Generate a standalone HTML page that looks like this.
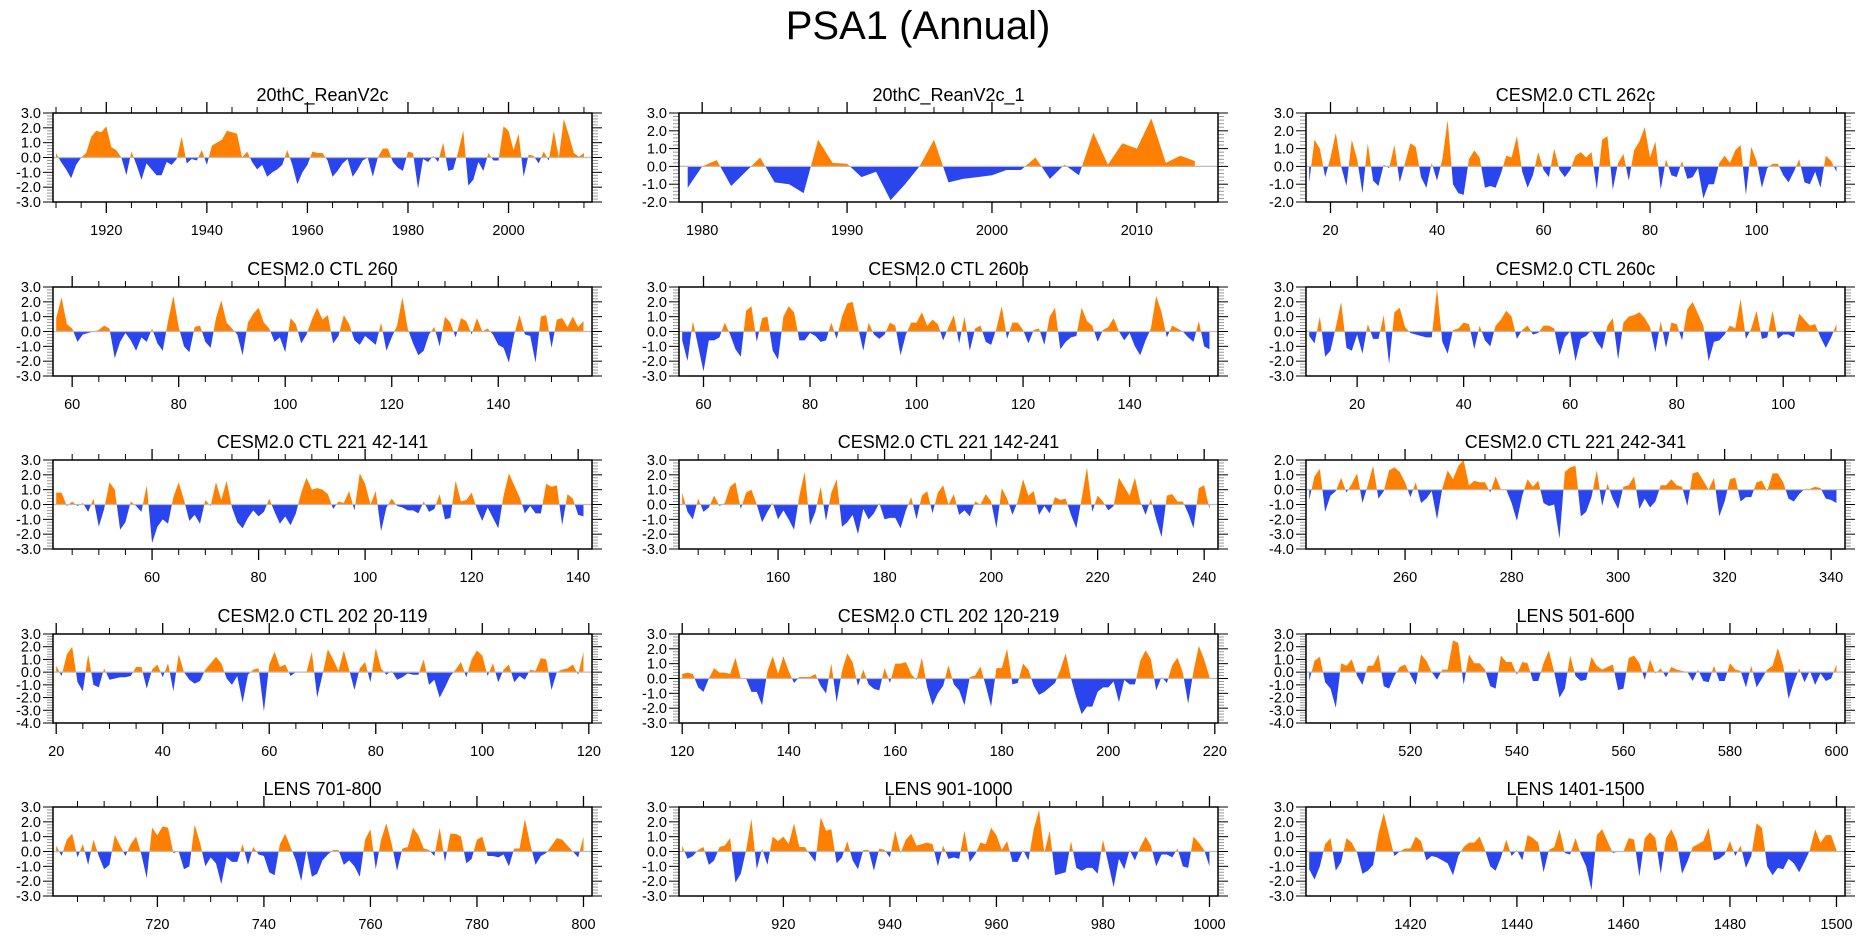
<!DOCTYPE html>
<html><head><meta charset="utf-8">
<style>
html,body{margin:0;padding:0;background:#fff;}
svg{display:block;}
text{font-family:"Liberation Sans",Arial,sans-serif;fill:#000;}
</style></head>
<body>
<svg id="chart" width="1861" height="936" viewBox="0 0 1861 936" xmlns="http://www.w3.org/2000/svg">
<text x="918" y="39" font-size="40" text-anchor="middle">PSA1 (Annual)</text>
</svg>
<script>
const panelTitles = ["20thC_ReanV2c","20thC_ReanV2c_1","CESM2.0 CTL 262c","CESM2.0 CTL 260","CESM2.0 CTL 260b","CESM2.0 CTL 260c","CESM2.0 CTL 221 42-141","CESM2.0 CTL 221 142-241","CESM2.0 CTL 221 242-341","CESM2.0 CTL 202 20-119","CESM2.0 CTL 202 120-219","LENS 501-600","LENS 701-800","LENS 901-1000","LENS 1401-1500"];
const startYears = [1910,1979,16,57,56,11,42,142,242,20,120,501,701,901,1401];
const yMins = [-3,-2,-2,-3,-3,-3,-3,-3,-4,-4,-3,-4,-3,-3,-3];
const yMaxs = [3,3,3,3,3,3,3,3,2,3,3,3,3,3,3];
const xMajor = [20,10,20,20,20,20,20,20,20,20,20,20,20,20,20];
const xMinor = [5,2,5,5,5,5,5,5,5,5,5,5,5,5,5];
const s1 = [0.3,-0.3,-0.8,-1.4,-0.5,0,0.3,1.4,1.8,1.7,2.1,0.7,0.5,0,-1.2,0.4,-0.5,-1.5,-0.4,-0.8,-1.2,-1.2,-0.3,-0.5,-0.1,1.4,-0.4,-0.1,-0.2,0.5,-0.5,0.8,1.0,1.2,1.8,1.7,1.6,0,0.4,-0.3,-0.8,-0.5,-1.3,-1.0,-0.8,-0.5,0.5,-0.5,-1.8,-1.0,-0.5,0.4,0.3,0.3,-0.2,-1.3,-0.9,-0.4,-0.1,-1.3,-0.8,-0.2,0,-1.3,0.0,0.6,0.6,-0.3,-0.7,-0.9,0.4,0.3,-2.1,-0.1,-0.3,0.1,-0.3,1.0,-0.9,-0.8,0.4,1.8,-1.9,-1.5,-0.3,-0.9,0.3,-0.2,-0.2,2.1,1.8,0.5,1.6,-1.3,0.2,0.1,-0.4,0.4,-0.2,1.8,0,2.6,1.5,0.3,0.05,0.3];
const s2 = [-1.2,0,0.35,-1.1,-0.3,0.5,-0.9,-1.0,-1.5,1.5,0.2,0.15,-0.6,-0.3,-1.9,-1.0,0.0,1.5,-0.9,-0.7,-0.6,-0.5,-0.2,-0.2,0.5,-0.7,0.1,-0.5,1.9,0.1,1.3,1.0,2.7,0.2,0.6,0.3];
const s3 = [-0.9,1.5,1.0,-0.6,0.5,1.9,0,-1.1,1.5,0.4,-1.5,1.3,-0.8,-1.1,0.1,-0.1,1.2,-0.9,0.2,1.3,1.1,-0.6,-1.2,0.2,-0.8,0.4,2.6,-1.0,-1.5,-1.6,0.4,0.9,0.5,-1.2,-1.1,-1.2,-0.4,0.6,0.5,1.7,-0.3,-1.2,-0.5,0.8,-0.2,-0.6,1.0,-0.2,-0.6,-0.2,0.6,0.8,0.5,0.8,-1.3,1.5,1.7,-1.3,0.2,0.7,-0.8,0.9,1.4,2.2,0.5,1.4,-1.3,0.4,-0.5,-0.6,0.3,-0.7,-0.6,-0.1,-1.8,-1.0,-1.0,0.2,0.6,0.2,0.9,1.2,-1.6,1.1,0.3,-1.2,-0.1,0.15,0.15,-0.5,-0.9,-0.3,0.4,-0.9,-1.0,-0.3,-1.2,0.6,0.3,-0.3];
const s4 = [0.9,2.3,0.5,0.2,-0.7,-0.2,-0.1,0,0.1,0.4,0.2,-1.8,-0.7,-0.1,-0.6,-1.3,-0.4,-0.7,0.2,-0.8,-1.3,0.7,2.4,0.3,-1.0,-1.4,0.3,0.4,-0.7,-1.1,0.9,2.1,0.6,0.2,-0.2,-1.6,0.6,1.2,1.6,0.6,0.2,-0.7,-0.4,-1.4,0.9,0.5,-0.8,-0.2,0.8,1.6,0.8,1.1,-0.8,-0.3,1.1,0.5,-0.6,-0.9,-0.3,-0.6,-0.9,0.6,-1.3,-0.4,0.4,2.3,0.2,-0.8,-1.6,-1.3,-0.2,0.3,-1.0,1.0,0.6,-0.4,0.9,0.7,-0.2,0.9,0.0,0.2,-0.2,-0.9,-1.1,-2.1,-0.2,1.1,-0.2,-0.3,-2.1,1.0,1.1,-1.1,0.8,0.9,0.3,1.0,0.3,0.7];
const s5 = [-0.6,-2.0,0.7,-1.0,-2.7,-0.6,-0.6,-0.4,0.6,-0.2,-1.2,-1.7,1.4,1.7,-0.7,0.9,1.0,-1.3,-1.9,1.0,1.7,1.3,-0.6,-0.6,-0.1,-0.3,-0.7,-0.6,0.6,-0.5,1.0,1.9,2.0,0.3,-1.3,0.6,-0.2,-0.5,-0.2,0.6,0.4,-1.6,-0.2,0.6,0.6,1.3,0.4,0.8,0.5,-0.6,0.3,1.1,-0.8,1.0,-1.3,0.2,0.4,-0.7,-0.9,0.2,1.7,-0.5,0.6,0.6,0.1,-0.8,0.1,0.2,-0.9,1.0,1.6,-1.2,-0.7,-0.4,-0.3,1.6,0.7,0.4,-0.7,0.1,0.3,0.9,0,-0.6,-0.1,-1.0,-1.6,-0.6,0.2,2.4,1.3,-0.4,0.4,0.2,0,-0.4,-0.7,0.7,-1.0,-1.2];
const s6 = [-0.3,-0.8,1.0,-1.7,-1.3,0.3,2.0,-1.1,-1.3,-0.2,-1.5,0.5,-0.5,-0.5,1.1,-2.2,1.3,1.6,0.3,-0.1,-0.2,-0.3,-0.4,-0.4,2.9,-0.7,-1.5,0.1,0.2,0.6,0.5,-1.2,0.4,-0.6,-1.0,0.4,0.8,1.4,1.0,-0.5,0.1,0.4,-0.2,-0.1,0.4,0.4,0.2,-1.6,-0.4,0,-2.0,-0.5,-0.3,0.1,-0.7,-1.2,0.4,0.9,-1.9,0.6,1.0,1.1,1.3,0.9,0.3,-1.4,0.7,-1.1,0.6,0.5,-0.6,1.5,2.0,1.2,0.4,-2.0,-0.7,-0.6,-0.2,0.4,0.2,2.2,-0.5,0.2,1.4,-0.5,-0.4,1.4,-0.5,-0.2,-0.2,-0.4,1.2,0.8,0.4,0.5,-0.4,-1.1,-0.4,0.5];
const s7 = [0.8,0.8,-0.1,0.2,-0.1,0.1,-0.5,0.4,-1.5,-0.3,1.5,1.0,-1.7,-1.2,0.2,-0.1,-0.5,1.3,-2.6,-1.5,-1.0,-1.3,0.5,1.5,0.3,-1.1,-0.7,-1.3,0.3,-0.1,1.5,0.3,1.6,-0.2,-1.2,-1.6,-0.9,-0.4,-0.8,-0.5,0.4,-0.5,-1.3,-0.8,-1.4,-0.6,0.8,1.8,1.0,1.1,1.0,0.7,-0.3,0.2,0.1,0.9,-0.4,2.1,1.4,0,0.9,-1.8,-0.2,0.4,-0.1,-0.2,-0.4,-0.4,-0.6,0.2,-0.5,-0.3,0.7,-1.0,-0.9,1.6,0.2,0.3,0.8,-0.3,-1.1,-0.2,-0.9,-1.6,0.6,2.1,1.3,0.5,-0.6,-0.1,-0.6,-0.6,1.4,1.2,1.3,-1.4,0.7,0.4,-0.7,-0.8];
const s8 = [0.8,-0.5,-1.0,0.4,-0.5,-0.2,0.6,-0.1,0.1,1.2,1.5,-0.3,0.8,1.0,0,-1.2,-0.5,0.1,-1.0,-0.4,-1.0,-1.7,0.6,2.2,-1.4,-0.5,1.2,-1.1,0.8,1.7,-1.5,-1.2,-0.7,-2.0,-0.3,-1.0,-0.6,0.1,-1.0,-0.9,-0.9,-1.6,-0.4,0.5,-1.0,0.6,0.9,-0.6,0.8,1.3,0,0.7,-0.7,-0.4,-0.8,0.2,0,0.7,0.2,-1.6,1.1,0.4,-0.7,0.2,1.7,0.6,0.9,-0.7,-0.1,-0.6,0.5,0.3,0.4,-0.7,-1.6,0.4,2.5,-0.5,0.6,0.2,-0.4,-0.1,1.8,1.2,0.6,1.8,0.2,-0.7,0.4,-1.0,-2.2,0.6,0.7,0.2,0.2,-0.6,-1.6,1.1,1.3,-0.3];
const s9 = [-0.7,0.9,1.4,-1.5,-0.4,-0.1,0.8,-0.2,0.4,1.1,-0.9,0.3,1.6,-0.6,-0.1,1.3,1.5,1.2,0.5,-0.5,0.5,-0.9,-0.6,-0.1,-2.0,0.1,1.3,0.7,1.6,2.0,0.3,0.6,0.5,0.5,-0.2,0.9,0,0,-0.9,-2.1,-0.4,0.7,0.2,0.6,-0.9,-1.1,-1.0,-3.3,1.2,1.5,1.6,-1.8,-1.5,-0.5,1.3,-1.1,0.4,-0.6,-1.3,0.2,0.3,0.9,-1.3,-0.6,-1.2,-0.8,0.3,0.3,0.7,0.3,0.2,-1.1,1.1,1.2,0.6,0,0.8,-1.8,-0.8,0.7,0.8,-0.8,-0.5,-0.5,0.5,0.6,-0.1,1.1,1.1,0.5,-0.6,-0.8,-0.3,0.05,0.05,0.2,0.1,-0.6,-0.7,-0.9];
const s10 = [0.5,-0.3,1.4,2.0,-0.8,-1.5,1.4,-1.0,-1.2,0.3,-0.6,-0.5,-0.4,-0.4,-0.3,0.4,0.4,-1.3,0.2,0.6,-0.4,0.7,-1.5,1.4,0,-0.6,-0.9,-0.7,0.2,0.7,1.2,0.7,-0.5,-1.0,-0.3,-2.4,-0.2,0.2,0.3,-3.1,0.6,1.6,0.4,0.6,-0.3,0,0.05,0,1.6,-2.0,-0.2,1.8,1.0,0.1,1.7,0.2,-1.4,0.3,0.8,-0.8,1.9,0.3,-0.2,0.1,-0.6,-0.4,-0.1,-0.2,-0.2,1.0,-1.0,-0.6,-2.0,-1.2,-0.3,0.2,0.8,-0.4,1.0,1.7,1.3,-0.3,0.7,-0.8,0.2,0.6,-0.8,-0.3,-0.6,0.2,0.1,1.1,1.0,-1.4,0,0.2,0.3,0.6,-0.2,1.6];
const s11 = [0.3,0.4,0.3,-0.6,-0.9,0,0.7,0.4,0.4,0.3,1.4,0,0,-0.9,-0.9,-1.8,0.5,1.5,0.3,1.5,0.5,-0.3,0.1,0.1,0.1,0.3,-0.5,-1.0,1.0,-1.6,0.5,1.7,1.1,-0.5,0.6,-0.4,-0.7,-0.8,0.7,-0.3,1.0,1.0,1.1,0.3,-0.1,1.4,-0.6,-1.8,-1.0,-0.5,0.9,-0.4,-0.8,-1.8,0.1,0.2,0.8,-0.5,-1.9,0.7,0.7,2.0,-0.4,-0.3,1.0,0.6,-0.5,-1.1,-0.9,-0.6,-0.3,0.6,1.7,0,-1.3,-2.4,-1.9,-1.9,-0.9,-0.6,-0.6,-0.2,-1.6,-0.1,-0.4,-0.4,1.2,1.9,1.3,-0.8,0.1,-0.3,0.9,1.4,0.4,-1.7,0.5,2.2,1.3,0.1];
const s12 = [-0.7,0.9,1.2,-0.8,-1.3,-2.8,0.7,0.5,1.0,-0.3,-1.0,0.5,0.5,1.4,-1.1,-1.3,-0.3,0.4,0.6,-0.2,-1.0,1.4,0.9,0,-0.6,0.2,0.2,2.5,2.3,-1.0,1.4,0.7,0.7,0.2,-1.1,-1.3,1.3,0.8,0.8,-0.2,0.8,0.7,-0.7,-0.7,0.7,1.7,0,-2.0,-1.3,1.3,-0.3,-0.7,-0.6,1.2,0.5,0.2,0.4,0.6,-1.4,-1.3,1.1,1.3,0.7,-0.6,1.0,-0.1,0.3,-0.4,0.4,0.2,0.1,0,-0.7,0.2,-0.7,-0.8,0.5,-0.7,-0.7,0.7,0.2,0.1,-1.2,0.5,-1.2,-0.5,0.2,0.5,1.9,0.5,-2.1,-0.8,0.3,-0.8,0.1,-1.0,-0.1,-0.7,-0.5,0.6];
const s13 = [0.4,-0.3,0.8,1.2,-0.4,0.5,-0.9,0.8,-0.3,-1.2,-0.9,1.1,0.4,-0.3,0.5,1.0,-0.2,-1.8,1.6,1.1,1.7,1.6,-0.1,0,-1.2,-1.0,1.8,0.6,-1.0,-0.4,-0.8,-2.2,-0.4,-0.7,-0.7,0.5,-0.9,0.3,-0.2,-0.3,-1.4,-1.6,0.5,1.2,0.3,-0.6,-2.0,0.1,-1.7,-1.5,-0.6,-0.2,0.1,0.1,-0.9,-0.6,-1.0,-1.7,0.8,1.5,-1.2,0.8,1.9,0.5,-1.3,0.2,0.3,1.6,1.1,0.2,0.1,-0.3,1.6,-0.7,1.2,1.2,1.0,-0.8,-0.5,0.8,1.0,-0.3,-0.3,-0.4,-0.2,-1.0,0.2,0.2,2.2,0.5,-0.9,-0.3,-0.1,0.4,0.9,0.8,0.4,0,-0.4,1.0];
const s14 = [0.4,-0.5,-0.3,0.1,0.3,-0.9,-0.6,0.3,0.4,0.9,-2.1,-1.5,0.1,2.2,-1.2,0.2,-0.9,1.0,0.7,1.0,0.5,1.9,0.3,0.3,-0.2,-0.7,2.3,1.4,1.5,-0.8,-0.4,0.7,-0.6,-1.2,0.1,0.1,-1.3,0.2,0.1,-0.4,1.4,-0.1,0.8,1.2,0.4,0.5,0.6,0.5,-1.0,0.4,-0.5,-0.4,-0.5,1.4,-0.7,-0.2,0.6,0.5,1.6,1.1,0.1,0.7,-0.7,-0.7,0.1,-0.6,1.5,2.8,-0.1,1.4,-1.6,-1.5,-1.4,0.7,-1.1,-1.3,-1.1,-1.1,-1.5,0.8,-0.8,-2.4,-0.5,-1.2,0.1,-0.6,0.3,1.0,0.4,-1.0,-0.2,-0.2,-0.4,0.2,-1.0,-1.1,1.0,0.6,0.1,-1.0];
const s15 = [-1.2,-1.9,-1.0,0.5,0.9,-1.3,-0.7,0.9,0.6,-0.1,-1.5,-1.3,-0.9,1.2,2.6,1.1,-0.3,0,0.2,0.2,1.0,0.7,-0.6,-0.3,-0.4,-0.6,-0.8,-1.6,-0.3,0.3,0.6,0.6,1.0,0.1,-1.0,-1.3,-0.4,0.8,-0.3,0.1,-0.6,1.1,0.9,0.6,-1.4,0.1,0.3,1.5,-0.1,-0.2,0.9,-0.2,-1.0,-2.6,1.1,1.5,0.7,-0.1,0,0,0.9,0.8,-1.7,0.9,1.3,0.9,-1.5,0.9,1.5,0.7,-1.5,-0.7,0.3,0.5,0.7,1.6,-0.6,-0.5,-0.2,0.7,-0.3,0.4,-1.1,-0.3,1.9,1.6,-1.0,-1.6,-1.1,-1.2,-0.5,-0.8,-1.4,-0.7,0.1,1.5,0.6,1.1,1.1,0.1];
const series = [s1,s2,s3,s4,s5,s6,s7,s8,s9,s10,s11,s12,s13,s14,s15];

const NS = "http://www.w3.org/2000/svg";
const svg = document.getElementById('chart');
const colLeft = [53, 679, 1306];
const rowTop = [113, 287, 460, 634, 807];
const PW = 539, PH = 89;

function mk(tag, attrs, parent) {
  const e = document.createElementNS(NS, tag);
  for (const k in attrs) e.setAttribute(k, attrs[k]);
  (parent || svg).appendChild(e);
  return e;
}
function fmt(v){ return v.toFixed(1); }

series.forEach((vals, p) => {
  const L = colLeft[p % 3], T = rowTop[Math.floor(p / 3)];
  const start = startYears[p];
  const end = start + vals.length - 1;
  const x0 = start - 0.6, x1 = end + 1.6;
  const ymin = yMins[p], ymax = yMaxs[p];
  const xs = v => L + (v - x0) / (x1 - x0) * PW;
  const ys = v => T + (ymax - v) / (ymax - ymin) * PH;

  const g = mk('g', {});
  
  

  const title = mk('text', {x: L + PW / 2, y: T - 12, 'font-size': 18, 'text-anchor': 'middle'}, g);
  title.textContent = panelTitles[p];
  
  

  // clip paths
  const cidA = 'ca' + p, cidB = 'cb' + p;
  const defs = mk('defs', {}, g);
  const ca = mk('clipPath', {id: cidA}, defs);
  mk('rect', {x: L, y: T, width: PW, height: ys(0) - T}, ca);
  const cb = mk('clipPath', {id: cidB}, defs);
  mk('rect', {x: L, y: ys(0), width: PW, height: T + PH - ys(0)}, cb);

  let d = 'M' + xs(start) + ',' + ys(0);
  vals.forEach((v, i) => { d += 'L' + xs(start + i).toFixed(2) + ',' + ys(v).toFixed(2); });
  d += 'L' + xs(end) + ',' + ys(0) + 'Z';
  const pos = mk('path', {d: d, fill: '#ff8000', 'clip-path': 'url(#' + cidA + ')'}, g);
  
  
  const neg = mk('path', {d: d, fill: '#2a45ee', 'clip-path': 'url(#' + cidB + ')'}, g);
  
  

  const zl = mk('line', {x1: L, x2: L + PW, y1: ys(0), y2: ys(0), stroke: '#bbbbbb', 'stroke-width': 1.2}, g);
  
  

  // y ticks
  const yax = mk('g', {}, g);
  
  
  for (let k = Math.round(ymin * 5); k <= Math.round(ymax * 5); k++) {
    const v = k / 5, y = ys(v);
    const major = k % 5 === 0;
    const len = major ? 10 : 6, col = major ? '#000' : '#999';
    mk('line', {x1: L - len, x2: L, y1: y, y2: y, stroke: col, 'stroke-width': 1}, yax);
    mk('line', {x1: L + PW, x2: L + PW + len, y1: y, y2: y, stroke: col, 'stroke-width': 1}, yax);
    if (major) {
      const t = mk('text', {x: L - 12, y: y + 5, 'font-size': 14.5, 'text-anchor': 'end'}, yax);
      t.textContent = fmt(v);
      
      
    }
  }
  // x ticks
  const xax = mk('g', {}, g);
  
  
  const mi = xMinor[p], ma = xMajor[p];
  for (let v = Math.ceil(x0 / mi) * mi; v <= x1; v += mi) {
    const x = xs(v);
    const major = v % ma === 0;
    const len = major ? 11 : 6;
    mk('line', {x1: x, x2: x, y1: T - len, y2: T, stroke: '#000', 'stroke-width': major ? 1.3 : 1}, xax);
    mk('line', {x1: x, x2: x, y1: T + PH, y2: T + PH + len, stroke: '#000', 'stroke-width': major ? 1.3 : 1}, xax);
    if (major) {
      const t = mk('text', {x: x, y: T + PH + 33, 'font-size': 14.5, 'text-anchor': 'middle'}, xax);
      t.textContent = String(v);
      
      
    }
  }
  const frame = mk('rect', {x: L, y: T, width: PW, height: PH, fill: 'none', stroke: '#000', 'stroke-width': 1.5}, g);
  
  
});
</script>
</body></html>
